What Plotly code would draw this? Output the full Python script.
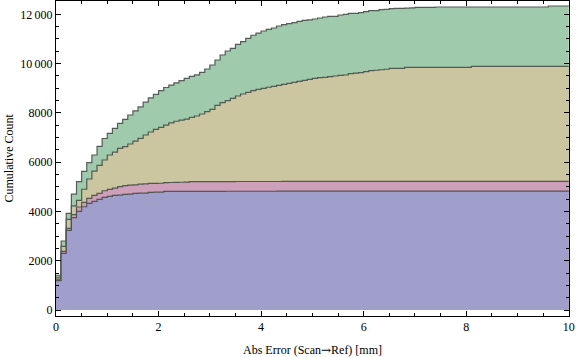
import numpy as np
import plotly.graph_objects as go

# Bin left edges (width 0.1 mm) from 0 to 9.9, plus closing edge at 10
bin_edges = [round(0.1 * i, 1) for i in range(100)] + [10.0]

# Stacked cumulative counts (top boundary of each layer), read per bin
blue_cum = [1190, 2300, 3230, 3750, 4000, 4190, 4330, 4410, 4490, 4570,
            4615, 4650, 4660, 4690, 4700, 4730, 4740, 4745, 4770, 4780,
            4785, 4815, 4815, 4815, 4815, 4815, 4818, 4818, 4818, 4818,
            4818, 4818, 4818, 4820, 4820, 4820, 4820, 4820, 4820, 4820,
            4820, 4820, 4820, 4822, 4822, 4822, 4822, 4822, 4822, 4822,
            4822, 4822, 4822, 4822, 4822, 4824, 4824, 4824, 4824, 4824,
            4824, 4824, 4824, 4824, 4824, 4824, 4824, 4826, 4826, 4826,
            4826, 4826, 4826, 4826, 4826, 4826, 4826, 4826, 4826, 4826,
            4826, 4826, 4826, 4828, 4828, 4828, 4828, 4828, 4828, 4828,
            4828, 4828, 4828, 4828, 4828, 4828, 4828, 4828, 4828, 4828]

pink_cum = [1250, 2380, 3315, 3870, 4180, 4370, 4530, 4655, 4735, 4840,
            4895, 4950, 5005, 5045, 5065, 5075, 5105, 5115, 5135, 5140,
            5145, 5170, 5175, 5180, 5185, 5190, 5210, 5210, 5212, 5212,
            5212, 5214, 5214, 5214, 5214, 5215, 5215, 5215, 5215, 5216,
            5216, 5216, 5216, 5216, 5217, 5217, 5217, 5217, 5218, 5218,
            5218, 5218, 5218, 5218, 5219, 5219, 5219, 5219, 5219, 5219,
            5220, 5220, 5220, 5220, 5220, 5220, 5220, 5220, 5221, 5221,
            5221, 5221, 5221, 5221, 5221, 5221, 5222, 5222, 5222, 5222,
            5222, 5222, 5222, 5222, 5222, 5223, 5223, 5223, 5223, 5223,
            5223, 5223, 5223, 5223, 5224, 5224, 5224, 5224, 5224, 5224]

tan_cum = [1330, 2580, 3680, 4230, 4450, 4900, 5317, 5640, 5870, 6088,
           6290, 6410, 6560, 6630, 6737, 6850, 6968, 7102, 7224, 7332,
           7414, 7500, 7595, 7660, 7705, 7745, 7820, 7873, 7955, 8050,
           8144, 8306, 8414, 8495, 8590, 8685, 8766, 8835, 8900, 8956,
           8997, 9040, 9078, 9120, 9160, 9200, 9240, 9280, 9320, 9363,
           9404, 9430, 9444, 9470, 9497, 9520, 9537, 9591, 9610, 9632,
           9672, 9713, 9730, 9750, 9770, 9808, 9808, 9808, 9850, 9850,
           9850, 9850, 9850, 9850, 9850, 9850, 9850, 9850, 9850, 9850,
           9850, 9890, 9890, 9890, 9890, 9890, 9890, 9890, 9890, 9890,
           9890, 9890, 9890, 9890, 9890, 9890, 9890, 9890, 9890, 9890]

green_cum = [1410, 2800, 3925, 4700, 5210, 5630, 5980, 6290, 6640, 6960,
             7170, 7373, 7576, 7739, 7914, 8083, 8240, 8435, 8610, 8750,
             8905, 9030, 9130, 9220, 9305, 9400, 9480, 9540, 9645, 9780,
             9943, 10146, 10349, 10511, 10620, 10782, 10890, 11025, 11150, 11235,
             11323, 11390, 11445, 11526, 11580, 11620, 11660, 11716, 11756, 11770,
             11810, 11850, 11890, 11920, 11920, 11972, 12000, 12040, 12040, 12066,
             12106, 12147, 12147, 12188, 12200, 12228, 12244, 12244, 12250, 12260,
             12284, 12284, 12284, 12284, 12297, 12297, 12297, 12297, 12297, 12297,
             12297, 12297, 12297, 12297, 12297, 12297, 12297, 12297, 12297, 12297,
             12297, 12297, 12297, 12297, 12297, 12297, 12338, 12338, 12338, 12338]

y_tickvals = [0, 2000, 4000, 6000, 8000, 10000, 12000]
y_ticktext = ["0", "2000", "4000", "6000", "8000", "10\u2009000", "12\u2009000"]
x_tickvals = [0, 2, 4, 6, 8, 10]
x_ticktext = ["0", "2", "4", "6", "8", "10"]

layers = [
    (green_cum, "rgb(159,203,172)"),
    (tan_cum, "rgb(203,197,160)"),
    (pink_cum, "rgb(205,159,185)"),
    (blue_cum, "rgb(160,159,204)"),
]

fig = go.Figure()
for vals, col in layers:
    fig.add_trace(go.Scatter(
        x=bin_edges, y=list(vals) + [vals[-1]],
        mode="lines", line=dict(shape="hv", color="rgba(70,78,72,0.9)", width=1.2),
        fill="tozeroy", fillcolor=col, showlegend=False, hoverinfo="skip"))

font = dict(family="Liberation Serif, DejaVu Serif, serif", size=12, color="black")
axis_common = dict(showgrid=False, zeroline=False, showline=True, linecolor="black",
                   linewidth=1, mirror="allticks", ticks="inside", ticklen=5,
                   tickcolor="black", tickfont=font, automargin=False)
fig.update_xaxes(range=[0, 10.005], tickvals=x_tickvals, ticktext=x_ticktext,
                 minor=dict(dtick=0.5, tick0=0, ticks="inside", ticklen=3, tickcolor="black"),
                 **axis_common)
fig.update_yaxes(range=[-243, 12540], tickvals=y_tickvals, ticktext=y_ticktext,
                 minor=dict(dtick=500, tick0=0, ticks="inside", ticklen=3, tickcolor="black"),
                 **axis_common)

x_title = ("Abs Error (Scan<span style=\"font-family:'DejaVu Serif'\">\u2192</span>Ref) [mm]")

fig.update_layout(
    width=576, height=357,
    margin=dict(l=56, r=7, t=1, b=41, autoexpand=False),
    paper_bgcolor="white", plot_bgcolor="white",
    font=font,
    annotations=[
        dict(text=x_title, xref="paper", yref="paper",
             x=0.5, y=(316 - 350) / 315, xanchor="center", yanchor="middle",
             showarrow=False, font=font),
        dict(text="Cumulative Count", xref="paper", yref="paper",
             x=(8 - 56) / 513, y=0.5, xanchor="center", yanchor="middle",
             textangle=-90, showarrow=False, font=font),
    ],
)

fig.write_html("out.html",
               config={"displayModeBar": False, "staticPlot": True},
               post_script="document.body.style.margin='0px';document.body.style.overflow='hidden';")
